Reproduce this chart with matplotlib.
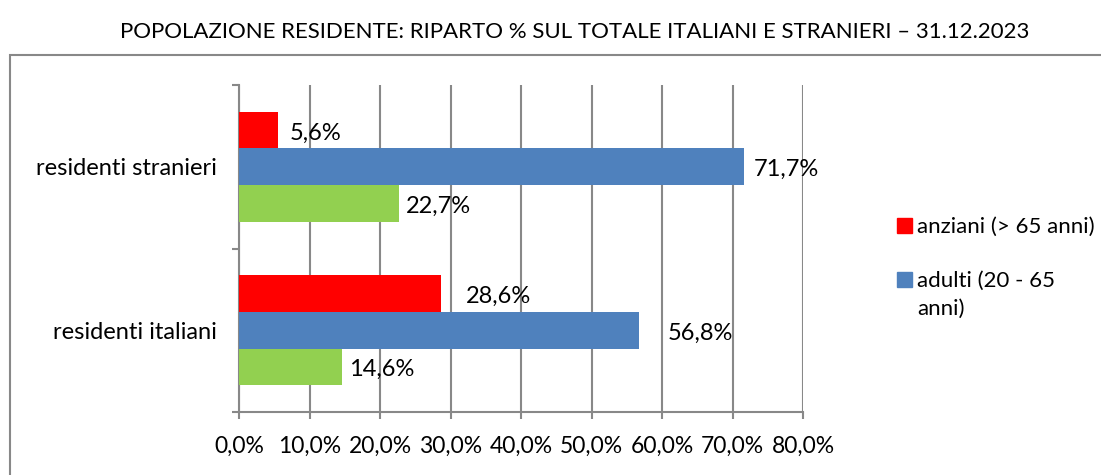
import matplotlib.pyplot as plt
from matplotlib.patches import Patch, Rectangle
from matplotlib.legend_handler import HandlerPatch

plt.rcParams['font.family'] = ['Lato', 'DejaVu Sans']

categories = ["residenti italiani", "residenti stranieri"]
anziani = [28.6, 5.6]
adulti = [56.8, 71.7]
giovani = [14.6, 22.7]
series_names = ["anziani (> 65 anni)", "adulti (20 - 65\nanni)"]
x_ticks = [0, 10, 20, 30, 40, 50, 60, 70, 80]
title = "POPOLAZIONE RESIDENTE: RIPARTO % SUL TOTALE ITALIANI E STRANIERI \u2013 31.12.2023"

red = "#FF0000"
blue = "#4F81BD"
green = "#92D050"
grey = "#888888"

fig = plt.figure(figsize=(11.01, 4.75), dpi=100)
ax = fig.add_axes([239 / 1101, 1 - 412 / 475, (803 - 239) / 1101, (412 - 85) / 475])

# outer chart border (cut by the right/bottom image edges)
fig.patches.append(Rectangle((10 / 1101, -0.05), 1.2, 1 - 55 / 475 + 0.05,
                             transform=fig.transFigure, fill=False,
                             edgecolor=grey, linewidth=1.5))

h = 0.224
ypos = [0, 1]
series = [(anziani, red, h), (adulti, blue, 0), (giovani, green, -h)]
label_dx = [[14, 4], [16, 3], [1, 1]]
for (vals, col, off), dxs in zip(series, label_dx):
    for y, v, dx in zip(ypos, vals, dxs):
        ax.barh(y + off, v, height=h, color=col, zorder=3)
        ax.annotate(f"{v:.1f}%".replace(".", ","), (v, y + off),
                    xytext=(dx + 4, -2), textcoords="offset points",
                    ha="left", va="center", fontsize=17, color="black")

ax.set_xlim(0, 80)
ax.set_ylim(-0.5, 1.5)
ax.set_xticks(x_ticks)
ax.set_xticklabels([f"{t:.1f}%".replace(".", ",") for t in x_ticks], fontsize=16.5)
ax.set_yticks([-0.5, 0.5, 1.5])
ax.set_yticklabels([])
ax.set_yticks(ypos, minor=True)
ax.set_yticklabels(categories, minor=True, fontsize=17)
ax.tick_params(axis="y", which="minor", length=0, pad=16)
ax.tick_params(axis="y", which="major", length=5, width=1.5, color=grey)
ax.tick_params(axis="x", length=5, width=1.5, color=grey, pad=12)

ax.grid(axis="x", color=grey, linewidth=1.5, zorder=0)
ax.set_axisbelow(True)
for s in ["top", "right"]:
    ax.spines[s].set_visible(False)
for s in ["left", "bottom"]:
    ax.spines[s].set_color(grey)
    ax.spines[s].set_linewidth(1.5)

fig.text(0.522, 1 - 32 / 475, title, ha="center", va="center", fontsize=16)


# keep the square next to the first line of a wrapped label
def top_square(legend, orig_handle, xdescent, ydescent, width, height, fontsize):
    return Rectangle((-xdescent, -ydescent + 11), width, height)


handles = [Patch(color=red), Patch(color=blue)]
leg = fig.legend(handles, series_names, loc="upper left",
                 bbox_to_anchor=(886 / 1101, 1 - 206 / 475), frameon=False,
                 fontsize=16, handlelength=0.65, handleheight=0.65,
                 handletextpad=0.25, labelspacing=1.5, borderpad=0,
                 handler_map={handles[1]: HandlerPatch(patch_func=top_square)})
for t in leg.get_texts():
    t.set_linespacing(1.5)

fig.savefig("out.png", dpi=100)
